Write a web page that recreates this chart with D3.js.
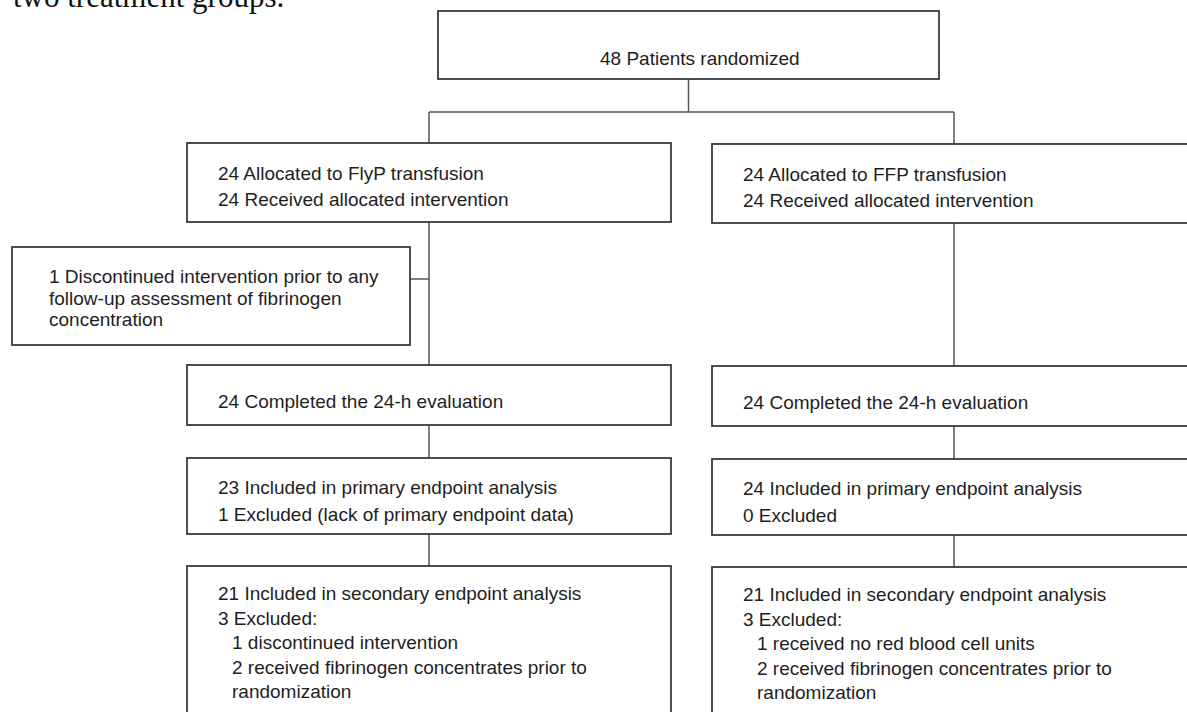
<!DOCTYPE html>
<html>
<head>
<meta charset="utf-8">
<script src="https://cdn.jsdelivr.net/npm/d3@7"></script>
<style>
  html, body { margin: 0; padding: 0; background: #fff; }
  svg { display: block; }
</style>
</head>
<body>
<div id="chart"></div>
<script>
// flow chart content
const captionTail = ["two treatment groups."];
const randomizedLines = ["48 Patients randomized"];
const arms = ["FlyP", "FFP"];
const stages = ["allocation", "evaluation", "primary", "secondary"];

const allocationLines = [
  ["24 Allocated to FlyP transfusion", "24 Received allocated intervention"],
  ["24 Allocated to FFP transfusion", "24 Received allocated intervention"]
];
const evaluationLines = [
  ["24 Completed the 24-h evaluation"],
  ["24 Completed the 24-h evaluation"]
];
const primaryLines = [
  ["23 Included in primary endpoint analysis", "1 Excluded (lack of primary endpoint data)"],
  ["24 Included in primary endpoint analysis", "0 Excluded"]
];
// second value: indented sub item or not
const secondaryLines = [
  [["21 Included in secondary endpoint analysis", false], ["3 Excluded:", false],
   ["1 discontinued intervention", true], ["2 received fibrinogen concentrates prior to", true],
   ["randomization", true]],
  [["21 Included in secondary endpoint analysis", false], ["3 Excluded:", false],
   ["1 received no red blood cell units", true], ["2 received fibrinogen concentrates prior to", true],
   ["randomization", true]]
];
const discontinuedLines = [
  "1 Discontinued intervention prior to any",
  "follow-up assessment of fibrinogen",
  "concentration"
];

const width = 1187;
const height = 712;
const font = "'Liberation Sans', Arial, Helvetica, sans-serif";
const boxStroke = "#3a3a3a";
const lineStroke = "#555";
const textFill = "#1e1e1e";

const svg = d3.select("#chart").append("svg")
  .attr("width", width)
  .attr("height", height);

// layout scales
const boxW = 484;
const xArm = d3.scaleOrdinal().domain(arms).range([187, 712]);
const yStage = d3.scaleOrdinal().domain(stages).range([143, 365, 458, 566]);
const hStage = d3.scaleOrdinal().domain(stages).range([79, 60, 76, 170]);
const firstBase = d3.scaleOrdinal().domain(stages).range([37, 43, 36, 34]);
const lineGap = d3.scaleOrdinal().domain(stages).range([26, 0, 27, 24.5]);
const armShift = d3.scaleOrdinal().domain(arms).range([0, 1]);
const cx = (arm) => xArm(arm) + boxW / 2;

const stageText = {
  allocation: allocationLines,
  evaluation: evaluationLines,
  primary: primaryLines,
  secondary: secondaryLines
};

// caption fragment cut at the top
svg.append("text")
  .attr("x", 13)
  .attr("y", 7)
  .attr("font-family", "'Liberation Serif', 'Times New Roman', serif")
  .attr("font-size", 31)
  .attr("fill", "#111")
  .text(captionTail[0]);

const lines = svg.append("g")
  .attr("fill", "none")
  .attr("stroke", lineStroke)
  .attr("stroke-width", 1.5);

// top box
const topBox = { x: 438, y: 11, w: 501, h: 68 };
svg.append("rect")
  .attr("x", topBox.x).attr("y", topBox.y)
  .attr("width", topBox.w).attr("height", topBox.h)
  .attr("fill", "#fff")
  .attr("stroke", boxStroke)
  .attr("stroke-width", 1.8);
svg.append("text")
  .attr("x", 600).attr("y", 65)
  .attr("font-family", font).attr("font-size", 19)
  .attr("fill", textFill)
  .text(randomizedLines[0]);

// split from the top box to both arms
const splitY = 112;
const midX = topBox.x + topBox.w / 2;
lines.append("line").attr("x1", midX).attr("x2", midX).attr("y1", topBox.y + topBox.h).attr("y2", splitY);
lines.append("line").attr("x1", cx(arms[0])).attr("x2", cx(arms[1])).attr("y1", splitY).attr("y2", splitY);
arms.forEach((arm) => {
  lines.append("line").attr("x1", cx(arm)).attr("x2", cx(arm))
    .attr("y1", splitY).attr("y2", yStage(stages[0]) + armShift(arm));
  // connectors between stages
  stages.slice(1).forEach((st, i) => {
    const prev = stages[i];
    lines.append("line").attr("x1", cx(arm)).attr("x2", cx(arm))
      .attr("y1", yStage(prev) + hStage(prev) + armShift(arm))
      .attr("y2", yStage(st) + armShift(arm));
  });
});

// side box for discontinued patient
const side = { x: 12, y: 247, w: 398, h: 98 };
lines.append("line").attr("x1", side.x + side.w).attr("x2", cx(arms[0])).attr("y1", 279).attr("y2", 279);
svg.append("rect")
  .attr("x", side.x).attr("y", side.y)
  .attr("width", side.w).attr("height", side.h)
  .attr("fill", "#fff")
  .attr("stroke", boxStroke)
  .attr("stroke-width", 1.8);
svg.append("g")
  .selectAll("text")
  .data(discontinuedLines)
  .join("text")
  .attr("x", side.x + 37)
  .attr("y", (d, i) => side.y + 36 + i * 21.5)
  .attr("font-family", font).attr("font-size", 19)
  .attr("fill", textFill)
  .text((d) => d);

// stage boxes
stages.forEach((st) => {
  arms.forEach((arm, ai) => {
    const bx = xArm(arm);
    const by = yStage(st) + armShift(arm);
    svg.append("rect")
      .attr("x", bx).attr("y", by)
      .attr("width", boxW).attr("height", hStage(st))
      .attr("fill", "#fff")
      .attr("stroke", boxStroke)
      .attr("stroke-width", 1.8);

    const rows = stageText[st][ai].map((d) => (Array.isArray(d) ? d : [d, false]));
    svg.append("g")
      .selectAll("text")
      .data(rows)
      .join("text")
      .attr("x", (d) => bx + 31 + (d[1] ? 14 : 0))
      .attr("y", (d, i) => by + firstBase(st) + i * lineGap(st))
      .attr("font-family", font).attr("font-size", 19)
      .attr("fill", textFill)
      .text((d) => d[0]);
  });
});
</script>
</body>
</html>
